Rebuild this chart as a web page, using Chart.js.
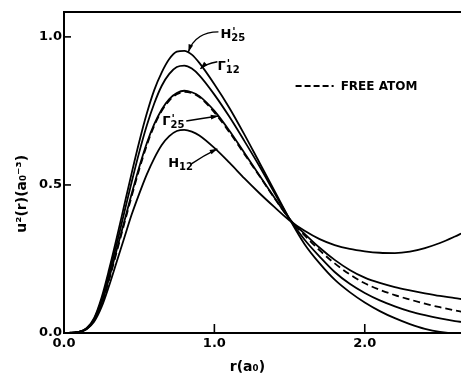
<!DOCTYPE html>
<html>
<head>
<meta charset="utf-8">
<script src="https://cdn.jsdelivr.net/npm/chart.js@4.4.1/dist/chart.umd.min.js"></script>
<style>
  html, body { margin: 0; padding: 0; background: #fff; overflow: hidden; }
  #chartBox { width: 461px; height: 377px; }
</style>
</head>
<body>
<div id="chartBox"><canvas id="densityChart" width="461" height="377"></canvas></div>
<script>
// radius in units of a0
const rValues = [0, 0.1, 0.15, 0.2, 0.25, 0.3, 0.35, 0.4, 0.45, 0.5, 0.55, 0.6, 0.65, 0.7, 0.75, 0.8, 0.85, 0.9,
  1.0, 1.1, 1.2, 1.3, 1.4, 1.5, 1.6, 1.7, 1.8, 1.9, 2.0, 2.1, 2.2, 2.3, 2.4, 2.5, 2.6, 2.65];

// u^2(r), one list per state
const h25Values = [0, 0.004, 0.016, 0.05, 0.12, 0.215, 0.32, 0.43, 0.54, 0.645, 0.74, 0.82, 0.88, 0.925, 0.95, 0.953, 0.94, 0.912,
  0.84, 0.76, 0.67, 0.575, 0.48, 0.385, 0.30, 0.235, 0.18, 0.138, 0.103, 0.074, 0.05, 0.03, 0.014, 0.004, 0, 0];
const g12Values = [0, 0.004, 0.015, 0.047, 0.112, 0.2, 0.3, 0.405, 0.51, 0.61, 0.7, 0.775, 0.835, 0.875, 0.898, 0.903, 0.893, 0.87,
  0.805, 0.73, 0.648, 0.563, 0.473, 0.385, 0.315, 0.258, 0.206, 0.166, 0.135, 0.11, 0.09, 0.073, 0.06, 0.049, 0.04, 0.037];
const g25Values = [0, 0.004, 0.014, 0.043, 0.1, 0.185, 0.28, 0.375, 0.47, 0.56, 0.64, 0.705, 0.755, 0.79, 0.81, 0.818, 0.813, 0.8,
  0.75, 0.683, 0.608, 0.532, 0.457, 0.385, 0.335, 0.288, 0.247, 0.213, 0.187, 0.169, 0.155, 0.144, 0.134, 0.125, 0.118, 0.114];
const freeAtomValues = [0, 0.004, 0.014, 0.042, 0.097, 0.18, 0.273, 0.368, 0.462, 0.552, 0.633, 0.7, 0.75, 0.785, 0.806, 0.814, 0.81, 0.797,
  0.745, 0.678, 0.604, 0.53, 0.455, 0.385, 0.33, 0.279, 0.235, 0.198, 0.168, 0.146, 0.128, 0.113, 0.099, 0.087, 0.076, 0.071];
const h12Values = [0, 0.003, 0.013, 0.038, 0.088, 0.16, 0.24, 0.32, 0.4, 0.47, 0.535, 0.59, 0.635, 0.665, 0.682, 0.686, 0.68, 0.667,
  0.625, 0.575, 0.522, 0.472, 0.425, 0.38, 0.345, 0.317, 0.297, 0.284, 0.276, 0.271, 0.27, 0.275, 0.287, 0.304, 0.326, 0.338];

const xTickValues = [0, 1, 2];
const yTickValues = [0, 0.5, 1.0];
const xTitle = 'r(a₀)';
const yTitle = 'u²(r)(a₀⁻³)';

// curve labels (in data units) and their arrows
const labelMain = ['H', 'Γ', 'Γ', 'H'];
const labelSub = ['25', '12', '25', '12'];
const labelPrime = [true, true, true, false];
const labelR = [1.04, 1.02, 0.653, 0.693];
const labelV = [0.997, 0.889, 0.703, 0.561];
const arrowFrom = [[1.027, 1.017], [1.02, 0.916], [0.813, 0.716], [0.847, 0.571]];
const arrowCtrl = [[0.873, 1.017], [0.94, 0.909], [0.92, 0.725], [0.93, 0.6]];
const arrowTo = [[0.827, 0.949], [0.907, 0.892], [1.027, 0.733], [1.02, 0.622]];
const legendLine = [[1.54, 0.834], [1.793, 0.834]];
const legendText = 'FREE ATOM';

const FONT = '"DejaVu Sans", sans-serif';

function toPoints(values) {
    return rValues.map((r, i) => ({ x: r, y: values[i] }));
}

function curve(values, dashed) {
    return {
        data: toPoints(values),
        borderColor: '#000',
        borderWidth: 1.8,
        borderDash: dashed ? [7, 4] : [],
        pointRadius: 0,
        cubicInterpolationMode: 'monotone',
        fill: false
    };
}

//inward tick marks on the frame, plus the axis titles
const frameTicks = {
    id: 'frameTicks',
    afterDraw(chart) {
        const ctx = chart.ctx, xs = chart.scales.x, ys = chart.scales.y, area = chart.chartArea;
        ctx.save();
        ctx.strokeStyle = '#000';
        ctx.lineWidth = 1.6;
        xTickValues.forEach(v => {
            if (v === 0) return;
            const px = xs.getPixelForValue(v);
            ctx.beginPath();
            ctx.moveTo(px, area.bottom);
            ctx.lineTo(px, area.bottom - 9);
            ctx.stroke();
        });
        yTickValues.forEach(v => {
            if (v === 0) return;
            const py = ys.getPixelForValue(v);
            ctx.beginPath();
            ctx.moveTo(area.left, py);
            ctx.lineTo(area.left + 7, py);
            ctx.stroke();
        });
        // titles sit a little off the centre in the original
        ctx.fillStyle = '#000';
        ctx.font = 'bold 14px ' + FONT;
        ctx.textAlign = 'center';
        ctx.textBaseline = 'middle';
        ctx.fillText(xTitle, xs.getPixelForValue(1.22), area.bottom + 34);
        ctx.translate(22, ys.getPixelForValue(0.47));
        ctx.rotate(-Math.PI / 2);
        ctx.fillText(yTitle, 0, 0);
        ctx.restore();
    }
};

//labels with arrows, and the free atom key
const curveLabels = {
    id: 'curveLabels',
    afterDatasetsDraw(chart) {
        const ctx = chart.ctx, xs = chart.scales.x, ys = chart.scales.y;
        const px = p => [xs.getPixelForValue(p[0]), ys.getPixelForValue(p[1])];
        ctx.save();
        ctx.fillStyle = '#000';
        ctx.strokeStyle = '#000';
        for (let i = 0; i < labelMain.length; i++) {
            const x = xs.getPixelForValue(labelR[i]);
            const y = ys.getPixelForValue(labelV[i]);
            ctx.textAlign = 'left';
            ctx.textBaseline = 'alphabetic';
            ctx.font = 'bold 13px ' + FONT;
            ctx.fillText(labelMain[i], x, y);
            const w = ctx.measureText(labelMain[i]).width;
            if (labelPrime[i]) {
                ctx.font = 'bold 11px ' + FONT;
                ctx.fillText("'", x + w + 1, y - 3);
            }
            ctx.font = 'bold 10px ' + FONT;
            ctx.fillText(labelSub[i], x + w, y + 3);

            const a = px(arrowFrom[i]), c = px(arrowCtrl[i]), b = px(arrowTo[i]);
            ctx.lineWidth = 1.4;
            ctx.beginPath();
            ctx.moveTo(a[0], a[1]);
            ctx.quadraticCurveTo(c[0], c[1], b[0], b[1]);
            ctx.stroke();
            const ang = Math.atan2(b[1] - c[1], b[0] - c[0]);
            ctx.beginPath();
            ctx.moveTo(b[0], b[1]);
            ctx.lineTo(b[0] - 8 * Math.cos(ang - 0.3), b[1] - 8 * Math.sin(ang - 0.3));
            ctx.lineTo(b[0] - 8 * Math.cos(ang + 0.3), b[1] - 8 * Math.sin(ang + 0.3));
            ctx.closePath();
            ctx.fill();
        }
        const l0 = px(legendLine[0]), l1 = px(legendLine[1]);
        ctx.lineWidth = 2;
        ctx.setLineDash([6, 3]);
        ctx.beginPath();
        ctx.moveTo(l0[0], l0[1]);
        ctx.lineTo(l1[0], l1[1]);
        ctx.stroke();
        ctx.setLineDash([]);
        ctx.font = 'bold 12px ' + FONT;
        ctx.textBaseline = 'middle';
        ctx.fillText(legendText, l1[0] + 7, l1[1] + 1);
        ctx.restore();
    }
};

const tickFont = { family: FONT, size: 13, weight: 'bold' };

const ctx = document.getElementById('densityChart').getContext('2d');
new Chart(ctx, {
    type: 'line',
    data: {
        datasets: [
            curve(h25Values, false),
            curve(g12Values, false),
            curve(g25Values, false),
            curve(h12Values, false),
            curve(freeAtomValues, true)
        ]
    },
    options: {
        responsive: false,
        animation: false,
        devicePixelRatio: 1,
        layout: { padding: 0 },
        plugins: { legend: { display: false }, tooltip: { enabled: false } },
        scales: {
            x: {
                type: 'linear',
                position: 'bottom',
                min: 0,
                max: 2.64,
                grid: { display: false, drawTicks: false },
                border: { display: true, color: '#000', width: 2 },
                afterBuildTicks: s => { s.ticks = xTickValues.map(v => ({ value: v })); },
                afterFit: s => { s.height = 44; },
                ticks: { color: '#000', font: tickFont, padding: 3, callback: v => v.toFixed(1) }
            },
            xTop: {
                type: 'linear',
                position: 'top',
                min: 0,
                max: 2.64,
                grid: { display: false, drawTicks: false },
                border: { display: true, color: '#000', width: 2 },
                ticks: { display: false },
                afterFit: s => { s.height = 12; }
            },
            y: {
                type: 'linear',
                min: 0,
                max: 1.084,
                grid: { display: false, drawTicks: false },
                border: { display: true, color: '#000', width: 2 },
                afterBuildTicks: s => { s.ticks = yTickValues.map(v => ({ value: v })); },
                afterFit: s => { s.width = 64; },
                ticks: { color: '#000', font: tickFont, padding: 2, callback: v => v.toFixed(1) }
            }
        }
    },
    plugins: [frameTicks, curveLabels]
});
</script>
</body>
</html>
